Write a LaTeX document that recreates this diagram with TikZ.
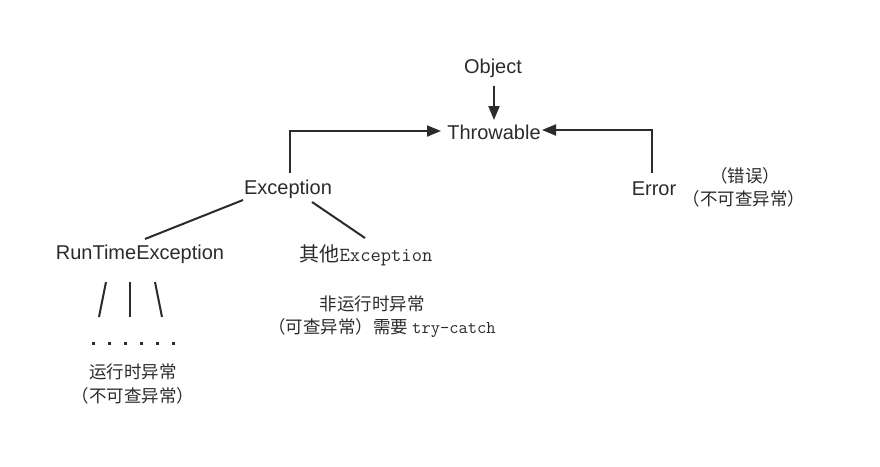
\documentclass[tikz,border=0pt]{standalone}
\usepackage{fontspec}
\setmainfont{Liberation Sans}
\newfontfamily\cjk{Noto Sans CJK SC}
\usetikzlibrary{arrows.meta}
\definecolor{ink}{HTML}{2B2B2B}
\tikzset{
  cls/.style={inner sep=0pt, text=ink, font=\fontsize{20}{24}\selectfont},
  note/.style={inner sep=0pt, text=ink, font=\cjk\fontsize{17.5}{20}\selectfont, align=center},
  conn/.style={draw=ink, line width=2pt},
  arr/.style={conn, -{Triangle[length=14pt,width=11pt]}},
  dot/.style={fill=ink, draw=none, minimum size=3pt, inner sep=0pt, shape=rectangle}
}
\begin{document}
\begin{tikzpicture}[x=1pt,y=-1pt]
\useasboundingbox (0,0) rectangle (880,466);
\node[cls] (obj) at (493,68) {Object};
\node[cls] (thr) at (494,132) {Throwable};
\node[cls] (exc) at (288,189) {Exception};
\node[cls] (err) at (654,189) {Error};
\node[cls] (rte) at (140,254) {RunTimeException};
\node[cls] (oth) at (366,255) {{\cjk 其他}{\ttfamily Exception}};

\node[note] (errn1) at (745,176) {（错误）};
\node[note] (errn2) at (744,199) {（不可查异常）};
\node[note] (rten1) at (133,372) {运行时异常};
\node[note] (rten2) at (133,396) {（不可查异常）};
\node[note] (othn1) at (372,304) {非运行时异常};
\node[note] (othn2) at (382,328) {（可查异常）需要 {\ttfamily\fontsize{18}{20}\selectfont try-catch}};

% arrows
\coordinate (objb) at (494,86);
\coordinate (thrt) at (494,120);
\draw[arr] (objb) -- (thrt);
\coordinate (excT) at (290,173);
\coordinate (thrL) at (441,131);
\draw[arr] (excT) |- (thrL);
\coordinate (errT) at (652,173);
\coordinate (thrR) at (542,130);
\draw[arr] (errT) |- (thrR);

% plain lines
\coordinate (e1) at (243,200);
\coordinate (r1) at (145,239);
\draw[conn] (e1) -- (r1);
\coordinate (e2) at (312,202);
\coordinate (o1) at (365,238);
\draw[conn] (e2) -- (o1);

\coordinate (a1) at (106,282); \coordinate (a2) at (99,317);
\coordinate (b1) at (130,282); \coordinate (b2) at (130,317);
\coordinate (c1) at (155,282); \coordinate (c2) at (162,317);
\draw[conn] (a1) -- (a2);
\draw[conn] (b1) -- (b2);
\draw[conn] (c1) -- (c2);

\foreach \i in {0,...,5} {
  \node[dot] (d\i) at (93+16*\i,343) {};
}
\end{tikzpicture}
\end{document}
